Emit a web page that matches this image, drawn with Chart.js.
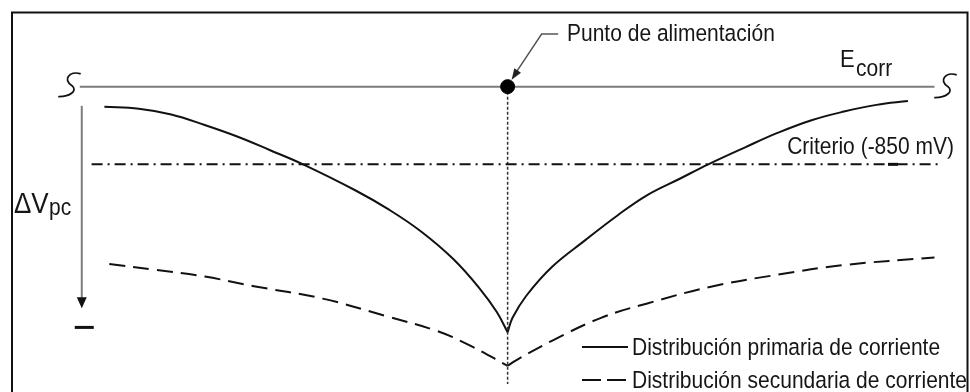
<!DOCTYPE html>
<html>
<head>
<meta charset="utf-8">
<script src="https://cdn.jsdelivr.net/npm/chart.js@4/dist/chart.umd.min.js"></script>
<style>
  html, body { margin: 0; padding: 0; background: #fff; }
  #wrap { position: relative; width: 970px; height: 392px; overflow: hidden; }
  #wrap canvas { position: absolute; left: 0; top: 0; }
  .lbl {
    position: absolute; white-space: nowrap; color: #161616;
    font-family: 'Liberation Sans', Arial, sans-serif;
    font-size: 21px; line-height: 21px;
    transform: scaleY(1.12); transform-origin: 0 17.8px;
  }
  .big { font-size: 26px; line-height: 26px; transform-origin: 0 22px; }
  .mid { font-size: 22px; line-height: 22px; transform-origin: 0 18.6px; }
</style>
</head>
<body>
<div id="wrap">
  <canvas id="diagram" width="970" height="392"></canvas>
  <div class="lbl" style="left:567px; top:23px;">Punto de alimentación</div>
  <div class="lbl mid" style="left:840px; top:49px;">E</div>
  <div class="lbl" style="left:856px; top:58px;">corr</div>
  <div class="lbl" style="right:16px; top:136px;">Criterio (-850 mV)</div>
  <div class="lbl big" style="left:14px; top:191px;">ΔV</div>
  <div class="lbl" style="left:49px; top:197px;">pc</div>
  <div class="lbl" style="left:632px; top:337px;">Distribución primaria de corriente</div>
  <div class="lbl" style="left:632px; top:370px;">Distribución secundaria de corriente</div>
</div>
<script>
  // distance from the feed point (x) and potential shift below Ecorr (y)
  var primaryLeftX  = [-41.0, -37.5, -34.2, -30.8, -27.5, -24.2, -20.8, -15.5, -12.1, -8.8, -5.5, -2.8, -1.1, 0];
  var primaryLeftY  = [2.1, 2.3, 2.9, 4.0, 5.2, 6.6, 8.1, 10.8, 12.8, 15.1, 18.0, 21.1, 23.5, 25.6];
  var primaryRightX = [0, 0.5, 1.9, 4.5, 7.9, 11.2, 14.2, 17.5, 20.4, 24.2, 27.5, 30.9, 34.2, 37.5, 40.7];
  var primaryRightY = [25.6, 24.1, 21.8, 18.8, 16.0, 13.4, 11.3, 9.6, 8.1, 6.3, 4.8, 3.5, 2.6, 1.9, 1.5];

  var secondaryLeftX  = [-40.5, -35.8, -30.8, -25.8, -18.8, -12.1, -7.1, -3.8, 0];
  var secondaryLeftY  = [18.5, 19.1, 19.8, 20.8, 22.1, 24.0, 25.5, 27.0, 29.1];
  var secondaryRightX = [0, 0.9, 4.5, 9.5, 14.2, 20.9, 27.5, 34.2, 43.4];
  var secondaryRightY = [29.1, 28.5, 26.5, 24.1, 22.6, 20.8, 19.6, 18.6, 17.8];

  var ecorrX = [-43.5, 43.4];
  var ecorrLevel = 0;
  var criterionX = [-42.3, 43.9];
  var criterionLevel = 8.1;
  var feedX = 0;
  var feedDepth = [0, 31];
  var deltaArrow = { x: -43.3, from: 2.0, to: 23.1, bar: 25.1 };

  function zip(xs, ys) {
    return xs.map(function (x, i) { return { x: x, y: ys[i] }; });
  }
  function flat(xs, level) {
    return xs.map(function (x) { return { x: x, y: level }; });
  }

  var INK = '#111111';
  var GREY = '#7c7c7c';

  function breakMark(ctx, ox, oy) {
    ctx.beginPath();
    ctx.moveTo(ox + 21, oy - 13);
    ctx.bezierCurveTo(ox + 11, oy - 16, ox + 3, oy - 7, ox + 13, oy - 1);
    ctx.bezierCurveTo(ox + 19, oy + 4, ox + 11, oy + 10, ox, oy + 10);
    ctx.stroke();
  }

  function arrowHead(ctx, tx, ty, fx, fy, len, half) {
    var a = Math.atan2(ty - fy, tx - fx);
    ctx.beginPath();
    ctx.moveTo(tx, ty);
    ctx.lineTo(tx - len * Math.cos(a) + half * Math.sin(a), ty - len * Math.sin(a) - half * Math.cos(a));
    ctx.lineTo(tx - len * Math.cos(a) - half * Math.sin(a), ty - len * Math.sin(a) + half * Math.cos(a));
    ctx.closePath();
    ctx.fill();
  }

  var decor = {
    id: 'decor',
    afterDatasetsDraw: function (chart) {
      var ctx = chart.ctx;
      var sx = chart.scales.x, sy = chart.scales.y;
      ctx.save();

      // frame
      ctx.strokeStyle = INK;
      ctx.lineWidth = 2;
      ctx.beginPath();
      ctx.moveTo(12, 400); ctx.lineTo(12, 12.5); ctx.lineTo(967.5, 12.5); ctx.lineTo(967.5, 400);
      ctx.stroke();

      // break marks at the ends of Ecorr
      var ey = sy.getPixelForValue(ecorrLevel);
      ctx.lineWidth = 1.8;
      ctx.lineCap = 'round';
      breakMark(ctx, 59, ey);
      breakMark(ctx, 935, ey + 1);

      // leader to the feed point
      var fx = sx.getPixelForValue(feedX);
      ctx.strokeStyle = '#555';
      ctx.fillStyle = '#222';
      ctx.lineWidth = 1.5;
      ctx.beginPath();
      ctx.moveTo(fx + 50, 34); ctx.lineTo(fx + 34, 34); ctx.lineTo(fx + 7, ey - 12);
      ctx.stroke();
      arrowHead(ctx, fx + 4, ey - 7, fx + 34, 34, 11, 4);

      // delta V arrow
      var ax = sx.getPixelForValue(deltaArrow.x);
      var ay0 = sy.getPixelForValue(deltaArrow.from);
      var ay1 = sy.getPixelForValue(deltaArrow.to);
      ctx.strokeStyle = GREY;
      ctx.lineWidth = 2;
      ctx.lineCap = 'butt';
      ctx.beginPath();
      ctx.moveTo(ax, ay0); ctx.lineTo(ax, ay1 - 8);
      ctx.stroke();
      ctx.fillStyle = INK;
      arrowHead(ctx, ax, ay1, ax, ay0, 11, 5);
      var by = sy.getPixelForValue(deltaArrow.bar);
      ctx.fillRect(ax - 7, by - 1.5, 19, 3);

      // small mark on the criterion line
      var cy = sy.getPixelForValue(criterionLevel);
      ctx.fillRect(888, cy - 1.5, 10, 3);

      // legend samples
      ctx.strokeStyle = INK;
      ctx.lineWidth = 2;
      ctx.beginPath();
      ctx.moveTo(582, 347); ctx.lineTo(628, 347);
      ctx.stroke();
      ctx.setLineDash([19, 6]);
      ctx.beginPath();
      ctx.moveTo(582, 380); ctx.lineTo(628, 380);
      ctx.stroke();

      ctx.restore();
    }
  };

  var curve = { borderColor: INK, borderWidth: 2, pointRadius: 0, tension: 0.4, fill: false };

  // Chart.js paints dataset 0 last, so the feed point goes first to sit on top
  new Chart(document.getElementById('diagram'), {
    type: 'line',
    data: {
      datasets: [
        { data: [{ x: feedX, y: ecorrLevel }], showLine: false, pointRadius: 7, pointHoverRadius: 7,
          pointBackgroundColor: '#000', pointBorderColor: '#000' },
        { data: zip(ecorrX, [ecorrLevel, ecorrLevel]), borderColor: GREY, borderWidth: 2, pointRadius: 0 },
        { data: flat(criterionX, criterionLevel), borderColor: INK, borderWidth: 2, pointRadius: 0,
          borderDash: [11, 5, 2, 5] },
        { data: zip([feedX, feedX], feedDepth), borderColor: '#333', borderWidth: 1.5, pointRadius: 0,
          borderDash: [3, 2] },
        Object.assign({ data: zip(primaryLeftX, primaryLeftY) }, curve),
        Object.assign({ data: zip(primaryRightX, primaryRightY) }, curve),
        Object.assign({ data: zip(secondaryLeftX, secondaryLeftY), borderDash: [16, 8] }, curve),
        Object.assign({ data: zip(secondaryRightX, secondaryRightY), borderDash: [16, 8] }, curve)
      ]
    },
    options: {
      responsive: false,
      animation: false,
      events: [],
      layout: { padding: 0 },
      plugins: { legend: { display: false }, tooltip: { enabled: false } },
      scales: {
        x: { type: 'linear', min: -50.8, max: 46.2, display: false },
        y: { type: 'linear', min: -8.2, max: 31.0, reverse: true, display: false }
      }
    },
    plugins: [decor]
  });
</script>
</body>
</html>
